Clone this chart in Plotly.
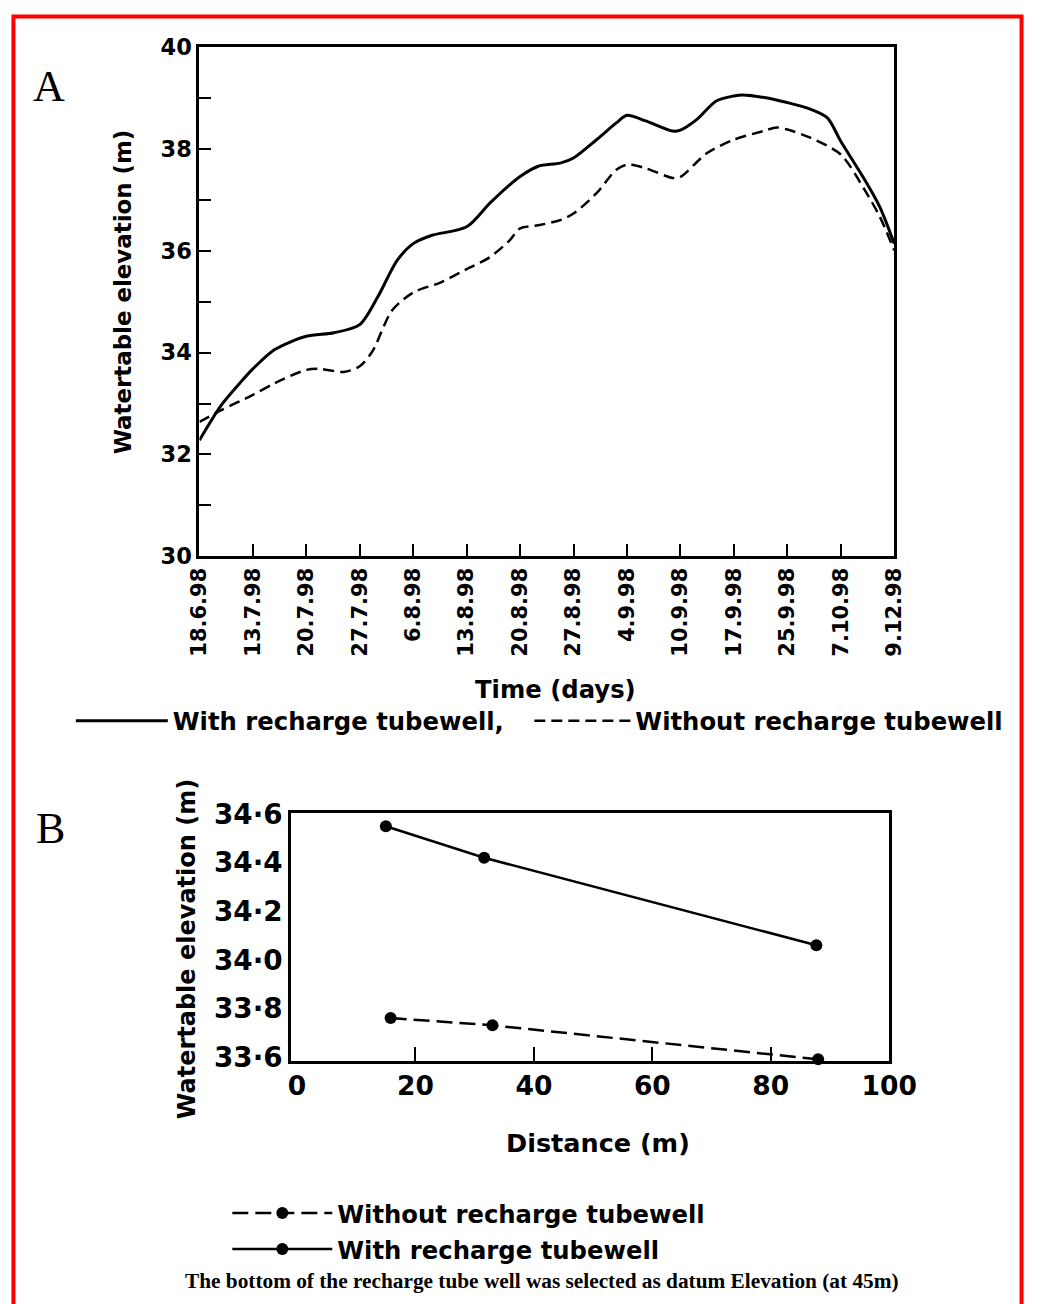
import plotly.graph_objects as go

W, H = 1051, 1304

# ---------------- Panel A data ----------------
dates = ["18.6.98", "13.7.98", "20.7.98", "27.7.98", "6.8.98", "13.8.98", "20.8.98",
         "27.8.98", "4.9.98", "10.9.98", "17.9.98", "25.9.98", "7.10.98", "9.12.98"]

with_pos = [0, 0.41, 0.78, 1, 1.41, 2, 2.52, 3, 3.33, 3.7, 4, 4.34, 5, 5.43, 5.8, 6, 6.34,
            6.75, 7, 7.43, 7.8, 8, 8.35, 8.85, 9, 9.31, 9.67, 10, 10.16, 10.57, 11, 11.43,
            11.75, 12, 12.45, 12.73, 13]
with_elev = [32.28, 32.97, 33.43, 33.68, 34.06, 34.32, 34.39, 34.55, 35.08, 35.81, 36.14,
             36.30, 36.47, 36.93, 37.29, 37.46, 37.66, 37.72, 37.82, 38.18, 38.51, 38.66,
             38.55, 38.35, 38.37, 38.58, 38.94, 39.04, 39.06, 39.01, 38.91, 38.78, 38.61,
             38.15, 37.39, 36.86, 36.14]

without_pos = [0, 0.41, 1, 1.41, 2, 2.25, 2.7, 3, 3.24, 3.6, 4, 4.52, 5, 5.43, 5.8, 6, 6.34,
               6.75, 7, 7.43, 7.8, 8, 8.35, 8.85, 9, 9.5, 10, 10.55, 10.8, 11, 11.43, 12,
               12.45, 12.73, 13]
without_elev = [32.64, 32.87, 33.17, 33.40, 33.66, 33.68, 33.62, 33.73, 34.03, 34.82, 35.18,
                35.38, 35.64, 35.87, 36.20, 36.44, 36.50, 36.60, 36.73, 37.13, 37.59, 37.69,
                37.62, 37.43, 37.45, 37.92, 38.18, 38.35, 38.42, 38.38, 38.22, 37.89, 37.19,
                36.67, 36.01]

# ---------------- Panel B data ----------------
dist_with = [15.0, 31.6, 87.7]
elev_with = [34.55, 34.42, 34.06]
dist_without = [15.8, 33.0, 88.0]
elev_without = [33.76, 33.73, 33.59]

b_yticks = [33.6, 33.8, 34.0, 34.2, 34.4, 34.6]
b_yticktext = ["33·6", "33·8", "34·0", "34·2", "34·4", "34·6"]
b_xticks = [0, 20, 40, 60, 80, 100]
b_xminor = [20, 40, 60, 80]

FONT = "DejaVu Sans, sans-serif"

# mapping from target picture pixels to figure paper fractions
SX, OX = 0.965, 11.0
SY, OY = 0.980, 12.9


def px(x):
    return ((x - OX) / SX) / W


def py(y):
    return 1 - ((y - OY) / SY) / H


def fnt(size, weight="bold", family=FONT):
    return dict(family=family, size=size, color="black", weight=weight)


fig = go.Figure()

fig.add_trace(go.Scatter(x=with_pos, y=with_elev, mode="lines", name="With recharge tubewell,",
                         line=dict(color="black", width=3, shape="spline", smoothing=0.8),
                         xaxis="x", yaxis="y", legend="legend"))
fig.add_trace(go.Scatter(x=without_pos, y=without_elev, mode="lines", name="Without recharge tubewell",
                         line=dict(color="black", width=2.5, dash="11px,6px", shape="spline", smoothing=0.8),
                         xaxis="x", yaxis="y", legend="legend3"))

fig.add_trace(go.Scatter(x=dist_without, y=elev_without, mode="lines+markers",
                         name="Without recharge tubewell",
                         line=dict(color="black", width=2.5, dash="16px,7px"),
                         marker=dict(color="black", size=12),
                         xaxis="x2", yaxis="y2", legend="legend2", cliponaxis=False))
fig.add_trace(go.Scatter(x=dist_with, y=elev_with, mode="lines+markers",
                         name="With recharge tubewell",
                         line=dict(color="black", width=2.5),
                         marker=dict(color="black", size=12),
                         xaxis="x2", yaxis="y2", legend="legend4", cliponaxis=False))

axis_common = dict(showline=True, linecolor="black", linewidth=3, mirror=True,
                   showgrid=False, zeroline=False, ticks="inside", tickcolor="black")

leg_common = dict(xanchor="left", yanchor="middle", bgcolor="rgba(0,0,0,0)",
                  font=fnt(24.3), orientation="v")

fig.update_layout(
    width=W, height=H,
    margin=dict(l=0, r=0, t=0, b=0),
    paper_bgcolor="white", plot_bgcolor="white",
    font=dict(family=FONT, color="black"),
    xaxis=dict(axis_common, domain=[px(199), px(896)], range=[0, 13],
               tickvals=list(range(len(dates))), ticktext=dates, tickangle=-90,
               ticklen=12, tickwidth=2, anchor="y", tickfont=fnt(21)),
    yaxis=dict(axis_common, domain=[py(555), py(45)], range=[30, 40],
               tickvals=[30, 32, 34, 36, 38, 40], ticklen=12, tickwidth=2,
               minor=dict(tickvals=[31, 33, 35, 37, 39], ticks="inside", ticklen=12,
                          tickwidth=2, tickcolor="black"),
               anchor="x", tickfont=fnt(22.5)),
    xaxis2=dict(axis_common, domain=[px(291), px(891)], range=[-1, 100],
                tickvals=b_xticks, ticks="", anchor="y2", tickfont=fnt(26.5),
                minor=dict(tickvals=b_xminor, ticks="inside", ticklen=14, tickwidth=2,
                           tickcolor="black")),
    yaxis2=dict(axis_common, domain=[py(1060), py(812)], range=[33.585, 34.605],
                tickvals=b_yticks, ticktext=b_yticktext, ticks="", anchor="x2",
                tickfont=fnt(27.8)),
    legend=dict(leg_common, x=px(70), y=py(720), itemwidth=92),
    legend3=dict(leg_common, x=px(530), y=py(720), itemwidth=96),
    legend2=dict(leg_common, x=px(227), y=py(1213), itemwidth=100),
    legend4=dict(leg_common, x=px(227), y=py(1249), itemwidth=100),
    showlegend=True,
)

annotations = [
    dict(text="Watertable elevation (m)", x=px(122), y=py(290), textangle=-90, font=fnt(22.9)),
    dict(text="Time (days)", x=px(556), y=py(688), font=fnt(24.3)),
    dict(text="Watertable elevation (m)", x=px(186), y=py(948), textangle=-90, font=fnt(24)),
    dict(text="Distance (m)", x=px(599), y=py(1143), font=fnt(25.5)),
    dict(text="A", x=px(48), y=py(85), font=fnt(44, "normal", "Liberation Serif")),
    dict(text="B", x=px(50), y=py(828), font=fnt(44, "normal", "Liberation Serif")),
    dict(text="The bottom of the recharge tube well was selected as datum Elevation (at 45m)",
         x=px(543), y=1 - 1293.5 / H, font=fnt(21.3, "bold", "Liberation Serif")),
]
for a in annotations:
    a.update(xref="paper", yref="paper", showarrow=False, xanchor="center", yanchor="middle")
fig.update_layout(annotations=annotations)

# red frame around the figure (as close to the page edge as the page allows)
fl, fr, ft = 1.5 / W, 1 - 1.5 / W, 1 - 1.5 / H
fig.add_shape(type="path", xref="paper", yref="paper",
              path=f"M {fl},-0.02 L {fl},{ft} L {fr},{ft} L {fr},-0.02",
              line=dict(color="#ff0000", width=4))

fig.write_html("out.html", config={"displayModeBar": False},
               post_script="document.body.style.margin='0';document.body.style.overflow='hidden';")
